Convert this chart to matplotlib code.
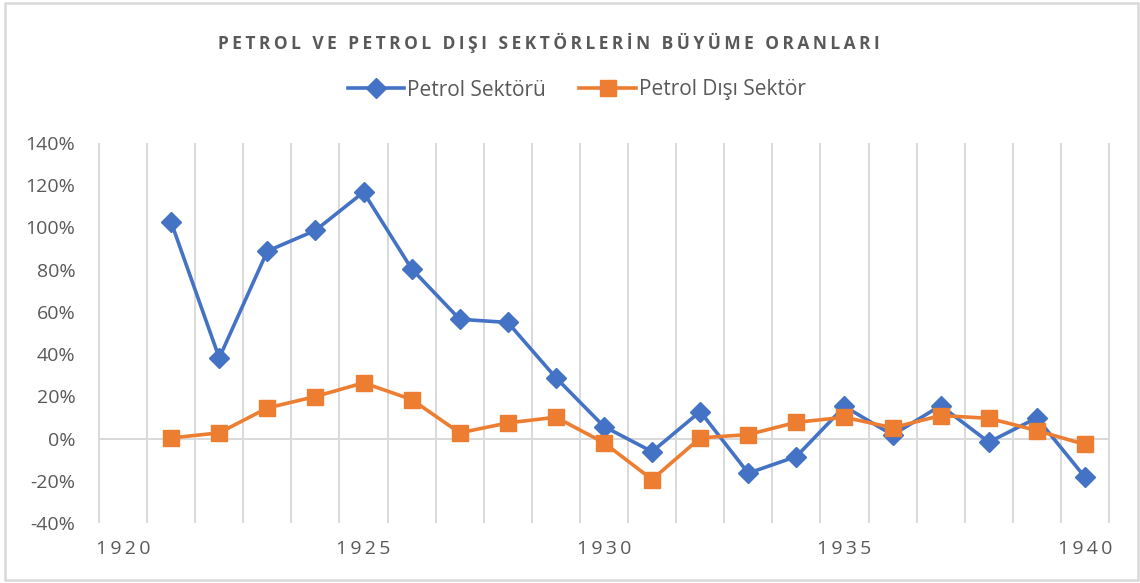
import numpy as np
import matplotlib.pyplot as plt
from matplotlib.patches import Rectangle
from matplotlib.ticker import FuncFormatter

# growth rates, 1921-1940 (1920 category is empty)
years = list(range(1921, 1941))
petrol = [1.025, 0.382, 0.888, 0.986, 1.167, 0.804, 0.565, 0.55, 0.288, 0.057,
          -0.062, 0.128, -0.164, -0.085, 0.152, 0.017, 0.156, -0.017, 0.098, -0.183]
petrol_disi = [0.003, 0.027, 0.145, 0.199, 0.264, 0.185, 0.027, 0.074, 0.101, -0.02,
               -0.194, 0.003, 0.019, 0.077, 0.101, 0.051, 0.109, 0.096, 0.038, -0.028]
year_labels = [1920, 1925, 1930, 1935, 1940]
title = "PETROL VE PETROL DIŞI SEKTÖRLERİN BÜYÜME ORANLARI"

plt.rcParams['font.family'] = ['Open Sans', 'DejaVu Sans']
grey = '#595959'
blue = '#4472C4'
orange = '#ED7D31'

def spaced(s, gap='\u2009'):
    # fake letter spacing (spaces between words keep the gaps around them)
    return gap.join(s)

fig = plt.figure(figsize=(11.4, 5.83), dpi=100)
ax = fig.add_axes([99/1140, 1 - 523/583, 1010/1140, 380/583])

ax.plot(years, petrol, color=blue, lw=2.6, marker='D', ms=10, label='Petrol Sektörü', zorder=3)
ax.plot(years, petrol_disi, color=orange, lw=2.6, marker='s', ms=12, label='Petrol Dışı Sektör', zorder=3)

ax.set_xlim(1919.5, 1940.5)
ax.set_ylim(-0.4, 1.4)
ax.set_yticks(np.arange(-0.4, 1.41, 0.2))
ax.yaxis.set_major_formatter(FuncFormatter(lambda v, p: f"{v*100:.0f}%"))
ax.set_xticks(year_labels)
ax.set_xticklabels([spaced(str(y)) for y in year_labels])
# category boundaries as vertical gridlines
ax.vlines(np.arange(1919.5, 1940.6, 1), -0.4, 1.4, color='#D9D9D9', lw=1.4, zorder=1, clip_on=False)
ax.axhline(0, color='#D9D9D9', lw=1.4, zorder=1)
ax.tick_params(which='both', length=0, colors=grey, labelsize=14)
ax.tick_params(axis='x', pad=12)
ax.tick_params(axis='y', pad=17)
for sp in ax.spines.values():
    sp.set_visible(False)

fig.text(0.4815, 1 - 43/583, spaced(title, '\u2009'), ha='center', va='center',
         fontsize=12.5, fontweight='bold', color=grey)

leg = fig.legend(loc='center', bbox_to_anchor=(0.506, 1 - 90/583), ncol=2, frameon=False,
                 fontsize=15, handlelength=2.7, handletextpad=0.15, columnspacing=1.6)
for t in leg.get_texts():
    t.set_color(grey)

fig.patches.append(Rectangle((5/1140, 3/583), 1133/1140, 577/583, transform=fig.transFigure,
                             fill=False, edgecolor='#D9D9D9', lw=1.8))

fig.savefig('out.png', dpi=100)
